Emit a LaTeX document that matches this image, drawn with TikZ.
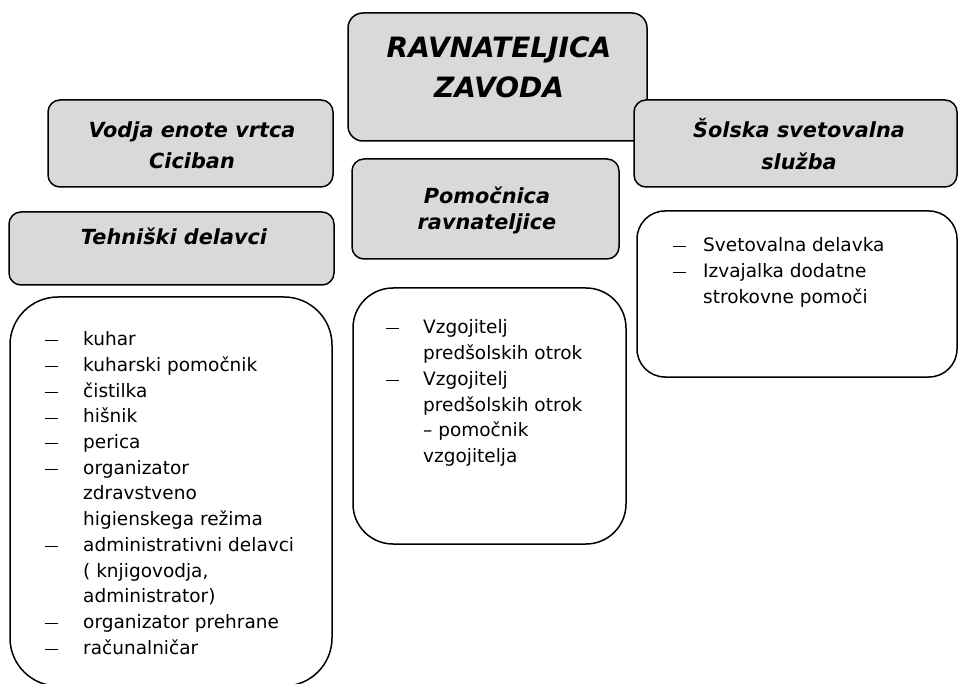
\documentclass[tikz,border=0pt]{standalone}
\usepackage{fontspec}
\setmainfont{DejaVu Sans}
\definecolor{hdrgray}{HTML}{D9D9D9}
\tikzset{
  hdr/.style={draw=black, line width=1.5pt, fill=hdrgray, rounded corners=12pt, inner sep=0pt},
  lst/.style={draw=black, line width=1.5pt, fill=white, inner sep=0pt},
  htxt/.style={font=\fontsize{20.8}{25}\selectfont\bfseries\itshape, anchor=base, inner sep=0pt},
  bigtxt/.style={font=\fontsize{28}{32}\selectfont\bfseries\itshape, anchor=base, inner sep=0pt},
  btxt/.style={font=\fontsize{18.5}{22}\selectfont, anchor=base west, inner sep=0pt},
  dsh/.style={anchor=base west, inner sep=0pt},
}
\newcommand{\lidash}{\rule[4.5pt]{13pt}{0.7pt}}
\begin{document}
\begin{tikzpicture}[x=1pt, y=-1pt]
\useasboundingbox (0,0) rectangle (958,684);
\clip (0,0) rectangle (958,684);
% --- header boxes ---
\node[hdr, rounded corners=15pt, minimum width=299pt, minimum height=128pt] (rav) at (497.5,77) {};
\node[bigtxt] (rav1) at (499,58) {RAVNATELJICA};
\node[bigtxt] (rav2) at (499,97.7) {ZAVODA};

\node[hdr, minimum width=323pt, minimum height=87pt] (sol) at (795.5,143.5) {};
\node[htxt] (sol1) at (799,137.7) {Šolska svetovalna};
\node[htxt] (sol2) at (799,170) {služba};

\node[hdr, minimum width=285pt, minimum height=87pt] (vod) at (190.5,143.5) {};
\node[htxt] (vod1) at (192,138) {Vodja enote vrtca};
\node[htxt] (vod2) at (192,169) {Ciciban};

\node[hdr, minimum width=325pt, minimum height=73pt] (teh) at (171.5,248.5) {};
\node[htxt] (teh1) at (174,245) {Tehniški delavci};

\node[hdr, minimum width=267pt, minimum height=100pt] (pom) at (485.5,209) {};
\node[htxt] (pom1) at (487,204) {Pomočnica};
\node[htxt] (pom2) at (487,230) {ravnateljice};

% --- list boxes ---
\node[lst, rounded corners=48pt, minimum width=322pt, minimum height=389pt] (tl) at (171,491.5) {};
\node[dsh] (tld1) at (45,345.7) {\lidash};
\node[btxt] (tl1) at (83,345.7) {kuhar};
\node[dsh] (tld2) at (45,371.4) {\lidash};
\node[btxt] (tl2) at (83,371.4) {kuharski pomočnik};
\node[dsh] (tld3) at (45,397.1) {\lidash};
\node[btxt] (tl3) at (83,397.1) {čistilka};
\node[dsh] (tld4) at (45,422.8) {\lidash};
\node[btxt] (tl4) at (83,422.8) {hišnik};
\node[dsh] (tld5) at (45,448.5) {\lidash};
\node[btxt] (tl5) at (83,448.5) {perica};
\node[dsh] (tld6) at (45,474.2) {\lidash};
\node[btxt] (tl6) at (83,474.2) {organizator};
\node[btxt] (tl7) at (83,499.9) {zdravstveno};
\node[btxt] (tl8) at (83,525.6) {higienskega režima};
\node[dsh] (tld9) at (45,551.3) {\lidash};
\node[btxt] (tl9) at (83,551.3) {administrativni delavci};
\node[btxt] (tl10) at (83,577.0) {( knjigovodja,};
\node[btxt] (tl11) at (83,602.7) {administrator)};
\node[dsh] (tld12) at (45,628.4) {\lidash};
\node[btxt] (tl12) at (83,628.4) {organizator prehrane};
\node[dsh] (tld13) at (45,654.1) {\lidash};
\node[btxt] (tl13) at (83,654.1) {računalničar};

\node[lst, rounded corners=40pt, minimum width=273pt, minimum height=256pt] (pl) at (489.5,416) {};
\node[dsh] (pld1) at (386,333.3) {\lidash};
\node[btxt] (pl1) at (423,333.3) {Vzgojitelj};
\node[btxt] (pl2) at (423,359.2) {predšolskih otrok};
\node[dsh] (pld3) at (386,385.1) {\lidash};
\node[btxt] (pl3) at (423,385.1) {Vzgojitelj};
\node[btxt] (pl4) at (423,411.0) {predšolskih otrok};
\node[btxt] (pl5) at (423,436.9) {– pomočnik};
\node[btxt] (pl6) at (423,462.8) {vzgojitelja};

\node[lst, rounded corners=28pt, minimum width=320pt, minimum height=166pt] (sl) at (797,294) {};
\node[dsh] (sld1) at (673,251.7) {\lidash};
\node[btxt] (sl1) at (703,251.7) {Svetovalna delavka};
\node[dsh] (sld2) at (673,277.5) {\lidash};
\node[btxt] (sl2) at (703,277.5) {Izvajalka dodatne};
\node[btxt] (sl3) at (703,303.3) {strokovne pomoči};
\end{tikzpicture}
\end{document}
